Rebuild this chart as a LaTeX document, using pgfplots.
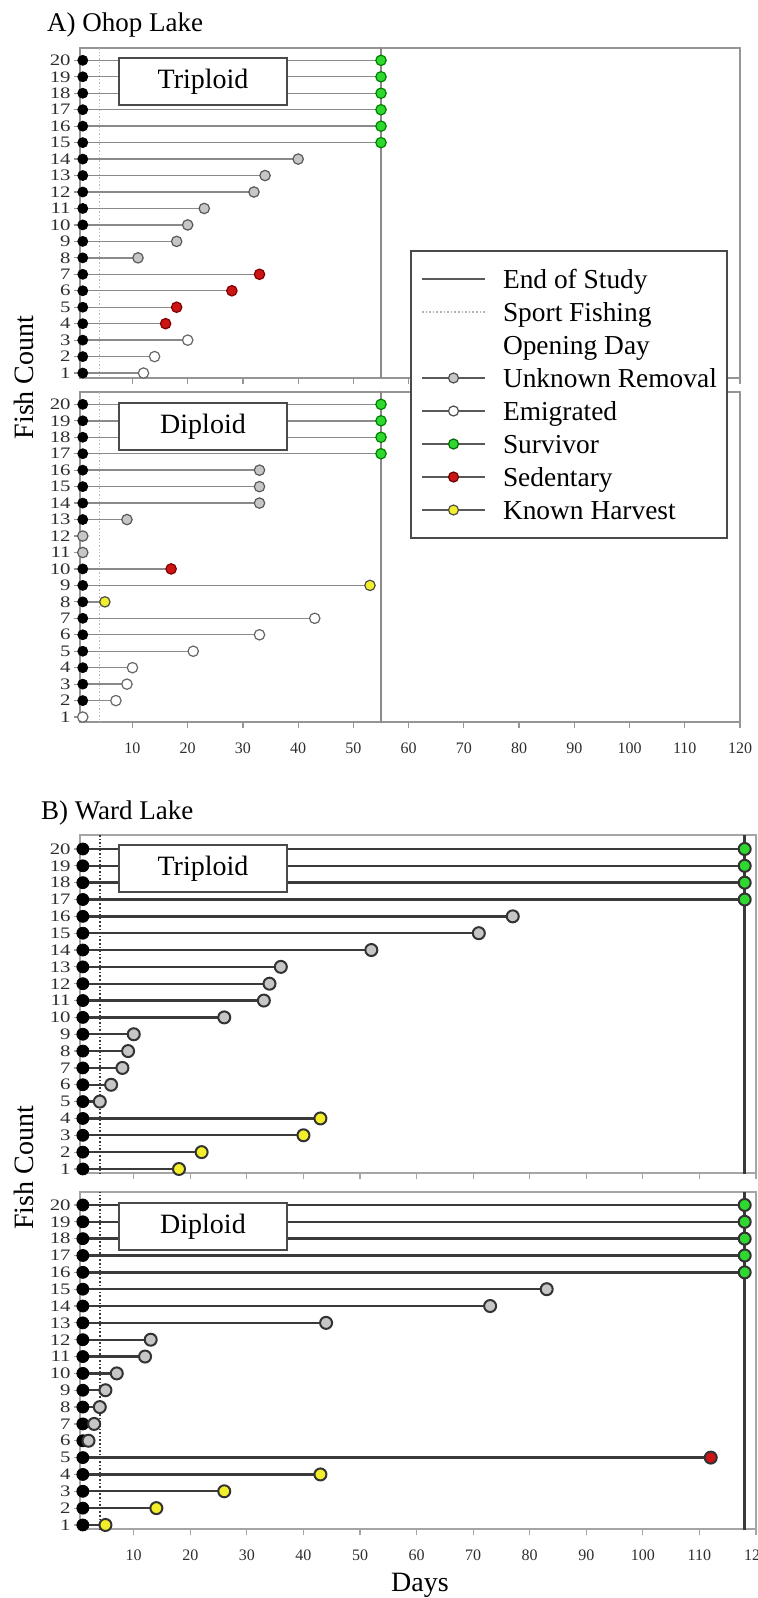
\documentclass[border=0pt]{standalone}
\usepackage{graphicx}
\usepackage{pgfplots}
\pgfplotsset{compat=1.18}
\usepackage{fontspec}
\setmainfont{Liberation Serif}

\definecolor{lineA}{HTML}{8A8A8A}
\definecolor{lineB}{HTML}{3A3A3A}
\definecolor{frameA}{HTML}{959595}
\definecolor{frameB}{HTML}{A5A5A5}
\definecolor{grayfill}{HTML}{C6C6C6}
\definecolor{survgreen}{HTML}{2ED82E}
\definecolor{sedred}{HTML}{CC1414}
\definecolor{harvyellow}{HTML}{F2EE2A}
\definecolor{labelgray}{HTML}{2E2E2E}
\definecolor{boxgray}{HTML}{4A4A4A}

\tikzset{
  ploidy/.style={draw=boxgray, line width=1pt, fill=white, minimum width=84pt,
    minimum height=23.5pt, inner sep=0pt, anchor=north west, font=\fontsize{14}{16}\selectfont},
}

\pgfplotsset{
  lake/.style={scale only axis, anchor=north west, set layers, mark layer=axis foreground,
    xmin=0.5, xmax=120, ymin=0.7, ymax=20.75,
    xtick={10,20,...,120}, ytick={1,2,...,20},
    xtick pos=left, ytick pos=left, tick align=outside, major tick length=3pt,
    /pgf/number format/assume math mode=true,
    tick label style={font=\fontsize{8}{9}\selectfont, text=labelgray},
    yticklabel={\scalebox{1.3}[1]{\pgfmathprintnumber{\tick}}},
    yticklabel style={inner sep=1.5pt},
    xticklabel style={yshift=-4pt}},
  notop/.style={xticklabels={}},
  panelA/.style={lake, width=330pt, height=165pt,
    axis line style={frameA, line width=0.8pt}, tick style={frameA, line width=0.6pt}},
  panelB/.style={lake, width=338pt,
    axis line style={frameB, line width=1pt}, tick style={frameB, line width=0.6pt}},
  endA/.style 2 args={xcomb, draw=lineA, line width=0.7pt, mark=*, mark size=2.6pt,
    mark options={solid, draw=#1, fill=#2, line width=0.6pt}},
  endB/.style 2 args={xcomb, draw=lineB, line width=1.2pt, mark=*, mark size=3pt,
    mark options={solid, draw=#1, fill=#2, line width=1pt}},
  startA/.style={only marks, mark=*, mark size=2.5pt, mark options={draw=black, fill=black}},
  startB/.style={only marks, mark=*, mark size=3pt, mark options={draw=black, fill=black}},
}

\begin{document}
\begin{tikzpicture}
\node[anchor=base west, font=\fontsize{13.5}{16}\selectfont] at (20pt,-15.75pt) {A) Ohop Lake};
\node[anchor=base west, font=\fontsize{13.5}{16}\selectfont] at (17pt,-409.5pt) {B) Ward Lake};
\node[rotate=90, anchor=base, font=\fontsize{14}{16}\selectfont] at (16.5pt,-188.75pt) {Fish Count};
\node[rotate=90, anchor=base, font=\fontsize{14}{16}\selectfont] at (16.5pt,-584pt) {Fish Count};
\node[anchor=base, font=\fontsize{14}{16}\selectfont] at (210pt,-795.5pt) {Days};

% A) Ohop Lake, triploid
\begin{axis}[panelA, notop, at={(40pt,-24pt)}]
\addplot[lineA, line width=0.8pt] coordinates {(55,0) (55,21)};
\addplot[densely dotted, gray!55, line width=0.7pt] coordinates {(4,0) (4,21)};
\addplot[startA] coordinates {(1,1) (1,2) (1,3) (1,4) (1,5) (1,6) (1,7) (1,8) (1,9) (1,10)
  (1,11) (1,12) (1,13) (1,14) (1,15) (1,16) (1,17) (1,18) (1,19) (1,20)};
\addplot[endA={green!50!black}{survgreen}] coordinates {(55,15) (55,16) (55,17) (55,18) (55,19) (55,20)};
\addplot[endA={black!65}{grayfill}] coordinates {(40,14) (34,13) (32,12) (23,11) (20,10) (18,9) (11,8)};
\addplot[endA={red!50!black}{sedred}] coordinates {(33,7) (28,6) (18,5) (16,4)};
\addplot[endA={black!60}{white}] coordinates {(20,3) (14,2) (12,1)};
\node[ploidy] at (rel axis cs:0.0576,0.973) {Triploid};
\end{axis}

% A) Ohop Lake, diploid
\begin{axis}[panelA, at={(40pt,-196pt)}]
\addplot[lineA, line width=0.8pt] coordinates {(55,0) (55,21)};
\addplot[densely dotted, gray!55, line width=0.7pt] coordinates {(4,0) (4,21)};
\addplot[startA] coordinates {(1,2) (1,3) (1,4) (1,5) (1,6) (1,7) (1,8) (1,9) (1,10)
  (1,13) (1,14) (1,15) (1,16) (1,17) (1,18) (1,19) (1,20)};
\addplot[endA={green!50!black}{survgreen}] coordinates {(55,17) (55,18) (55,19) (55,20)};
\addplot[endA={black!65}{grayfill}] coordinates {(33,16) (33,15) (33,14) (9,13) (1,12) (1,11)};
\addplot[endA={red!50!black}{sedred}] coordinates {(17,10)};
\addplot[endA={black!70}{harvyellow}] coordinates {(53,9) (5,8)};
\addplot[endA={black!60}{white}] coordinates {(43,7) (33,6) (21,5) (10,4) (9,3) (7,2) (1,1)};
\node[ploidy] at (rel axis cs:0.0576,0.970) {Diploid};
\end{axis}

% B) Ward Lake, triploid
\begin{axis}[panelB, notop, height=169pt, ymin=0.76, ymax=20.83, at={(40pt,-417.5pt)}]
\addplot[lineB, line width=1.2pt] coordinates {(118,0) (118,21)};
\addplot[densely dotted, lineB, line width=0.8pt] coordinates {(4,0) (4,21)};
\addplot[startB] coordinates {(1,1) (1,2) (1,3) (1,4) (1,5) (1,6) (1,7) (1,8) (1,9) (1,10)
  (1,11) (1,12) (1,13) (1,14) (1,15) (1,16) (1,17) (1,18) (1,19) (1,20)};
\addplot[endB={black!80}{survgreen}] coordinates {(118,17) (118,18) (118,19) (118,20)};
\addplot[endB={black!80}{grayfill}] coordinates {(77,16) (71,15) (52,14) (36,13) (34,12) (33,11)
  (26,10) (10,9) (9,8) (8,7) (6,6) (4,5)};
\addplot[endB={black!80}{harvyellow}] coordinates {(43,4) (40,3) (22,2) (18,1)};
\node[ploidy] at (rel axis cs:0.0562,0.973) {Triploid};
\end{axis}

% B) Ward Lake, diploid
\begin{axis}[panelB, height=168.5pt, ymin=0.76, ymax=20.77, at={(40pt,-596pt)}]
\addplot[lineB, line width=1.2pt] coordinates {(118,0) (118,21)};
\addplot[densely dotted, lineB, line width=0.8pt] coordinates {(4,0) (4,21)};
\addplot[startB] coordinates {(1,1) (1,2) (1,3) (1,4) (1,5) (1,6) (1,7) (1,8) (1,9) (1,10)
  (1,11) (1,12) (1,13) (1,14) (1,15) (1,16) (1,17) (1,18) (1,19) (1,20)};
\addplot[endB={black!80}{survgreen}] coordinates {(118,16) (118,17) (118,18) (118,19) (118,20)};
\addplot[endB={black!80}{grayfill}] coordinates {(83,15) (73,14) (44,13) (13,12) (12,11)
  (7,10) (5,9) (4,8) (3,7) (2,6)};
\addplot[endB={black!80}{sedred}] coordinates {(112,5)};
\addplot[endB={black!80}{harvyellow}] coordinates {(43,4) (26,3) (14,2) (5,1)};
\node[ploidy] at (rel axis cs:0.0562,0.970) {Diploid};
\end{axis}

% legend
\begin{axis}[at={(0pt,0pt)}, anchor=north west, scale only axis, width=100pt, height=100pt,
  hide axis, xmin=0, xmax=1, ymin=0, ymax=1,
  legend cell align=left,
  legend style={at={(2.05,-0.25)}, anchor=north west, draw=boxgray, line width=1pt, fill=white,
    inner xsep=5pt, inner ysep=5.75pt, column sep=8.5pt, font=\fontsize{13.7}{15}\selectfont,
    nodes={inner sep=0pt, text height=12.75pt, text depth=3.75pt}},
  legend image code/.code={\draw[mark repeat=2, mark phase=2, #1]
    plot coordinates {(0pt,0pt) (15.75pt,0pt) (31.5pt,0pt)};}]
\addlegendimage{black!65, line width=1pt}
\addlegendentry{End of Study}
\addlegendimage{densely dotted, gray!60, line width=0.8pt}
\addlegendentry{Sport Fishing}
\addlegendimage{empty legend}
\addlegendentry{Opening Day}
\addlegendimage{black!65, line width=1pt, mark=*, mark size=2.5pt, mark options={solid, draw=black!70, fill=grayfill, line width=0.6pt}}
\addlegendentry{Unknown Removal}
\addlegendimage{black!65, line width=1pt, mark=*, mark size=2.5pt, mark options={solid, draw=black!70, fill=white, line width=0.6pt}}
\addlegendentry{Emigrated}
\addlegendimage{black!65, line width=1pt, mark=*, mark size=2.5pt, mark options={solid, draw=green!40!black, fill=survgreen, line width=0.6pt}}
\addlegendentry{Survivor}
\addlegendimage{black!65, line width=1pt, mark=*, mark size=2.5pt, mark options={solid, draw=red!40!black, fill=sedred, line width=0.6pt}}
\addlegendentry{Sedentary}
\addlegendimage{black!65, line width=1pt, mark=*, mark size=2.5pt, mark options={solid, draw=black!70, fill=harvyellow, line width=0.6pt}}
\addlegendentry{Known Harvest}
\end{axis}

\pgfresetboundingbox
\path[use as bounding box] (0pt,0pt) rectangle (378.5pt,-799pt);
\end{tikzpicture}
\end{document}
